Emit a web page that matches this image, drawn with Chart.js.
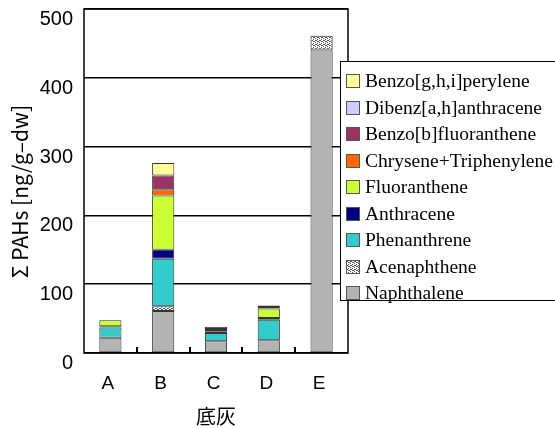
<!DOCTYPE html>
<html>
<head>
<meta charset="utf-8">
<script src="https://cdn.jsdelivr.net/npm/chart.js@4"></script>
<style>
  body { margin: 0; overflow: hidden; background: #fff; }
  #wrap { position: relative; width: 555px; height: 428px; overflow: hidden; }
  #legend {
    position: absolute; left: 340px; top: 61px; width: 230px; height: 240px;
    border: 1px solid #000; background: #fff; box-sizing: border-box;
    font-family: "Liberation Serif", serif; font-size: 19.5px; color: #000;
    padding-top: 6px;
  }
  .item { height: 26.5px; display: flex; align-items: center; white-space: nowrap; }
  .sw { width: 12px; height: 12px; border: 1px solid #555; margin: 0 5px 0 5px; flex: none; }
</style>
</head>
<body>
<div id="wrap">
  <canvas id="chart" width="555" height="428"></canvas>
  <div id="legend"></div>
</div>
<script>
// ΣPAHs in bottom ash, stacked by compound

const categories = ['A', 'B', 'C', 'D', 'E'];
const yTicks = [0, 100, 200, 300, 400, 500];

const naphthalene   = [22, 61, 17, 18.5, 441];
const acenaphthene  = [0, 7, 0, 0, 20];
const phenanthrene  = [15, 69, 12, 30, 0];
const anthracene    = [2, 13, 2, 2.5, 0];
const fluoranthene  = [8.5, 79, 1, 13.5, 0];
const chrysene      = [0, 9, 3, 2.5, 0];
const benzoBFluor   = [0, 20, 3, 2, 0];
const dibenzAnth    = [0, 0, 0, 0, 0];
const benzoGHI      = [0, 18, 0, 0, 0];

// dotted fill for acenaphthene
function dotPattern() {
  const c = document.createElement('canvas');
  c.width = 4; c.height = 4;
  const g = c.getContext('2d');
  g.fillStyle = '#fff';
  g.fillRect(0, 0, 4, 4);
  g.fillStyle = '#555';
  g.fillRect(0, 0, 1, 1);
  g.fillRect(1, 1, 1, 1);
  g.fillRect(2, 1, 1, 1);
  g.fillRect(3, 0, 1, 1);
  g.fillRect(1, 3, 1, 1);
  g.fillRect(3, 2, 1, 1);
  return c;
}
const dotCanvas = dotPattern();
const dots = document.createElement('canvas').getContext('2d').createPattern(dotCanvas, 'repeat');

const series = [
  { label: 'Naphthalene',           data: naphthalene,  color: '#b3b3b3' },
  { label: 'Acenaphthene',          data: acenaphthene, color: dots, css: `url(${dotCanvas.toDataURL()})` },
  { label: 'Phenanthrene',          data: phenanthrene, color: '#33cccc' },
  { label: 'Anthracene',            data: anthracene,   color: '#000080' },
  { label: 'Fluoranthene',          data: fluoranthene, color: '#ccff33' },
  { label: 'Chrysene+Triphenylene', data: chrysene,     color: '#ff6600' },
  { label: 'Benzo[b]fluoranthene',  data: benzoBFluor,  color: '#993366' },
  { label: 'Dibenz[a,h]anthracene', data: dibenzAnth,   color: '#ccccff' },
  { label: 'Benzo[g,h,i]perylene',  data: benzoGHI,     color: '#ffff99' },
];

const frame = {
  id: 'frame',
  afterDraw(chart) {
    const { ctx, chartArea: a, scales: { x } } = chart;
    ctx.save();
    ctx.strokeStyle = '#000';
    ctx.lineWidth = 1.5;
    ctx.strokeRect(a.left, a.top, a.right - a.left, a.bottom - a.top);
    ctx.lineWidth = 2;
    for (let i = 1; i < categories.length; i++) {
      const px = Math.round((x.getPixelForValue(i - 1) + x.getPixelForValue(i)) / 2);
      ctx.beginPath();
      ctx.moveTo(px, a.bottom);
      ctx.lineTo(px, a.bottom - 6);
      ctx.stroke();
    }
    ctx.restore();
  }
};

new Chart(document.getElementById('chart'), {
  type: 'bar',
  data: {
    labels: categories,
    datasets: series.map(s => ({
      label: s.label,
      data: s.data.map(v => v === 0 ? null : v),
      backgroundColor: s.color,
      borderColor: '#333',
      borderWidth: 1,
      borderSkipped: false,
      categoryPercentage: 1,
      barPercentage: 0.42,
    }))
  },
  options: {
    responsive: false,
    animation: false,
    layout: { padding: { top: 9, right: 207, left: 0, bottom: 0 } },
    plugins: { legend: { display: false }, tooltip: { enabled: false } },
    scales: {
      x: {
        stacked: true,
        afterFit: s => { s.height = 75; s.paddingLeft = 0; s.paddingRight = 0; },
        grid: { display: false, drawTicks: false },
        border: { display: false },
        ticks: { color: '#000', padding: 19, labelOffset: -2.5, font: { family: 'Liberation Sans', size: 19 } },
        title: {
          display: true, text: '底灰', color: '#000',
          font: { family: 'Noto Sans CJK JP', size: 20 }, padding: { top: 0, bottom: 0 }
        }
      },
      y: {
        stacked: true,
        min: 0, max: 500,
        afterFit: s => { s.width = 84; s.paddingTop = 0; s.paddingBottom = 0; },
        afterBuildTicks: s => { s.ticks = yTicks.map(v => ({ value: v })); },
        grid: { color: '#000', lineWidth: 1.5, drawTicks: false },
        border: { display: false },
        ticks: { color: '#000', padding: 11, labelOffset: 10.5, font: { family: 'Liberation Sans', size: 20 } },
        title: {
          display: true, text: 'Σ PAHs [ng/g–dw]　', color: '#000',
          font: { family: 'Noto Sans CJK JP', size: 21 }, padding: { top: 7, bottom: 0 }
        }
      }
    }
  },
  plugins: [frame]
});

// legend, top item = last series
const legend = document.getElementById('legend');
series.slice().reverse().forEach(s => {
  const row = document.createElement('div');
  row.className = 'item';
  const sw = document.createElement('span');
  sw.className = 'sw';
  sw.style.background = s.css || s.color;
  row.appendChild(sw);
  row.appendChild(document.createTextNode(s.label));
  legend.appendChild(row);
});
</script>
</body>
</html>
